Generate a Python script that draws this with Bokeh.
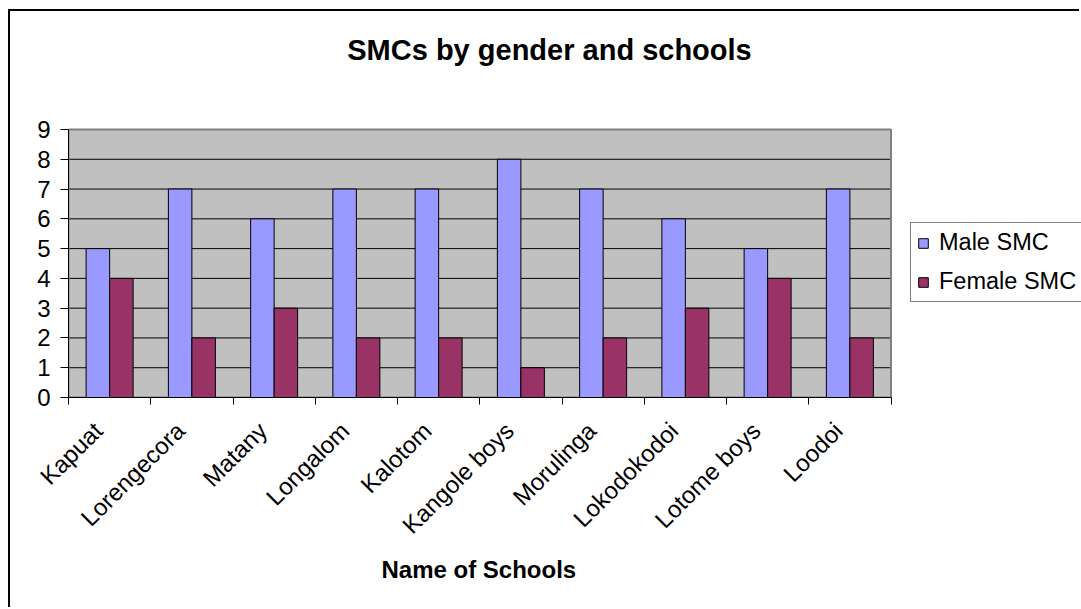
from math import pi
from bokeh.plotting import figure
from bokeh.models import (Range1d, LinearAxis, FixedTicker, Legend, LegendItem,
                          ColumnDataSource, Label, Title)
from bokeh.embed import file_html
from bokeh.resources import INLINE

schools = ["Kapuat", "Lorengecora", "Matany", "Longalom", "Kalotom",
           "Kangole boys", "Morulinga", "Lokodokodoi", "Lotome boys", "Loodoi"]
male_smc = [5, 7, 6, 7, 7, 8, 7, 6, 5, 7]
female_smc = [4, 2, 3, 2, 2, 1, 2, 3, 4, 2]
y_ticks = [0, 1, 2, 3, 4, 5, 6, 7, 8, 9]

FONT = "Liberation Sans"
n = len(schools)
y_max = y_ticks[-1]
bw = 0.2857
centers = [i + 0.5 for i in range(n)]
bounds = [i for i in range(n + 1)]
label_shift = 0.14          # school names sit a little left of the category centre
label_pos = [c - label_shift for c in centers]

# layout (pixels)
CANVAS_W, CANVAS_H = 1071, 598
LEFT, BOTTOM = 58, 212
PLOT_W, PLOT_H = 822.5, 268.0
FRAME_W = CANVAS_W - LEFT
FRAME_H = CANVAS_H - BOTTOM
PX_X = PLOT_W / n
PX_Y = PLOT_H / y_max

src = ColumnDataSource(dict(school=schools,
                            xm=[c - bw / 2 for c in centers],
                            xf=[c + bw / 2 for c in centers],
                            male=male_smc, female=female_smc))

p = figure(x_range=Range1d(0, n * FRAME_W / PLOT_W),
           y_range=Range1d(0, y_max * FRAME_H / PLOT_H),
           width=CANVAS_W, height=CANVAS_H,
           output_backend="svg", toolbar_location=None,
           x_axis_location=None,
           min_border_left=LEFT, min_border_right=0,
           min_border_top=0, min_border_bottom=BOTTOM,
           background_fill_color="white", border_fill_color="white",
           outline_line_color=None,
           margin=(9, 0, 0, 8),
           styles={"border-left": "2px solid black", "border-top": "2px solid black"})
p.title.visible = False
p.grid.grid_line_color = None

# plot area
p.quad(left=[0], right=[n], bottom=[0], top=[y_max],
       fill_color="#C0C0C0", line_color=None)
p.segment(x0=[0] * len(y_ticks), x1=[n] * len(y_ticks), y0=y_ticks, y1=y_ticks,
          line_color="black", line_width=1)
p.quad(left=[0], right=[n], bottom=[0], top=[y_max],
       fill_color=None, line_color="#808080", line_width=2)

r_m = p.vbar(x="xm", top="male", width=bw, source=src,
             fill_color="#9999FF", line_color="black", line_width=1)
r_f = p.vbar(x="xf", top="female", width=bw, source=src,
             fill_color="#993366", line_color="black", line_width=1)

# y axis
yax = p.yaxis[0]
yax.ticker = FixedTicker(ticks=y_ticks)
yax.bounds = (0, y_max)
yax.major_label_text_font = FONT
yax.major_label_text_font_size = "24px"
yax.major_label_text_color = "black"
yax.major_tick_out = 8
yax.major_tick_in = 0
yax.minor_tick_line_color = None
yax.axis_line_color = "black"
yax.major_tick_line_color = "black"
yax.major_label_standoff = 10

# school names (rotated), tick marks at category boundaries
name_axis = LinearAxis(ticker=FixedTicker(ticks=label_pos, minor_ticks=bounds),
                       bounds=(0, n),
                       major_label_overrides={x: s for x, s in zip(label_pos, schools)},
                       axis_line_color="black",
                       major_tick_line_color=None,
                       major_tick_out=0, major_tick_in=0,
                       minor_tick_line_color="black",
                       minor_tick_out=7, minor_tick_in=0,
                       major_label_orientation=pi / 4,
                       major_label_text_font=FONT,
                       major_label_text_font_size="24px",
                       major_label_text_color="black",
                       major_label_standoff=22)
p.add_layout(name_axis, "below")

xtitle = Title(text="Name of Schools", align="left", offset=313,
               text_font=FONT, text_font_size="24px", text_font_style="bold",
               text_color="black", standoff=4)
p.add_layout(xtitle, "below")

# chart title
p.add_layout(Label(x=(549 - 68) / PX_X, y=(397 - 49) / PX_Y,
                   text="SMCs by gender and schools",
                   text_align="center", text_baseline="alphabetic",
                   text_font=FONT, text_font_size="29px", text_font_style="bold",
                   text_color="black"))

legend = Legend(items=[LegendItem(label="Male SMC", renderers=[r_m]),
                       LegendItem(label="Female SMC", renderers=[r_f])],
                location=(842, 95),
                border_line_color="black", border_line_width=1,
                background_fill_color="white", background_fill_alpha=1,
                padding=6, margin=0, spacing=12,
                glyph_width=12, glyph_height=12, label_standoff=10,
                label_text_font=FONT, label_text_font_size="23.5px",
                label_text_color="black")
p.add_layout(legend)

open("out.html", "w").write(file_html(p, INLINE))
